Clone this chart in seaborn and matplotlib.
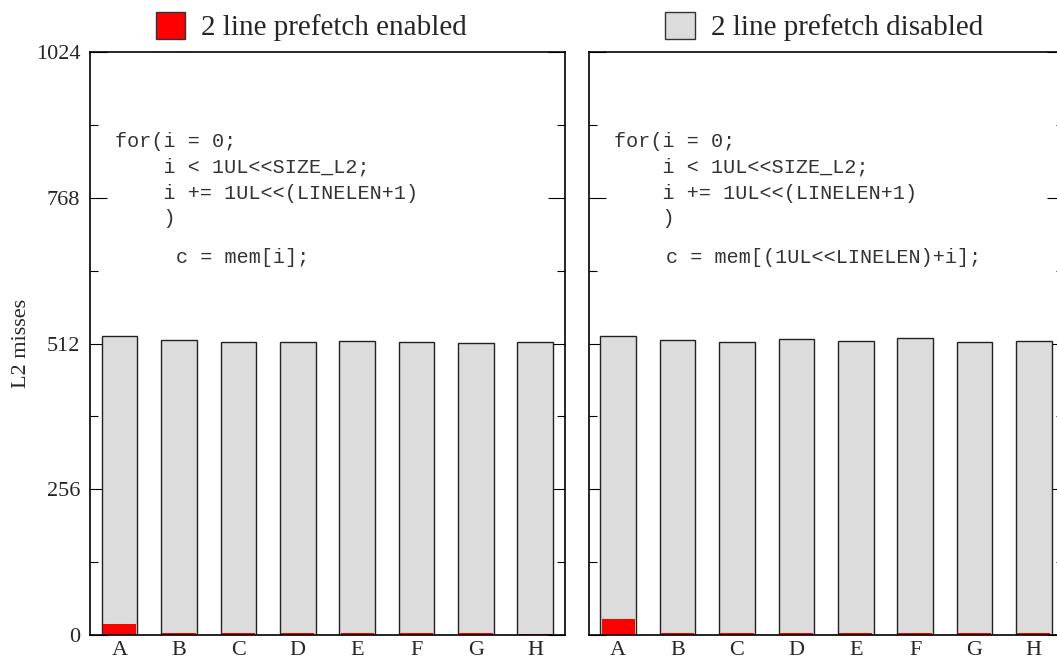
import matplotlib
matplotlib.use("Agg")
import matplotlib.pyplot as plt
from matplotlib.patches import Patch
from matplotlib.ticker import MultipleLocator
import seaborn as sns

# Data
categories = ["A", "B", "C", "D", "E", "F", "G", "H"]
disabled_left = [525, 518, 515, 515, 516, 515, 513, 515]
enabled_left = [19, 3, 3, 3, 3, 3, 3, 2]
disabled_right = [525, 518, 515, 520, 516, 522, 515, 516]
enabled_right = [28, 3, 3, 3, 3, 3, 3, 3]

code_left = ["for(i = 0;", "    i < 1UL<<SIZE_L2;", "    i += 1UL<<(LINELEN+1)", "    )"]
loop_body_left = "c = mem[i];"
loop_body_right = "c = mem[(1UL<<LINELEN)+i];"

sns.set_style("white")
plt.rcParams["font.family"] = ["Liberation Serif", "DejaVu Serif"]

fig = plt.figure(figsize=(10.57, 6.59), dpi=100)
ax1 = fig.add_axes([0.0851, 0.0364, 0.4494, 0.8847])
ax2 = fig.add_axes([0.5568, 0.0364, 0.4494, 0.8847])

grey = "#dcdcdc"
red = "#ff0000"


def draw_panel(ax, disabled, enabled, body, body_x):
    sns.barplot(x=categories, y=disabled, color=grey, saturation=1,
                edgecolor="#222222", linewidth=1.0, width=0.6, ax=ax)
    sns.barplot(x=categories, y=enabled, color=red, saturation=1,
                linewidth=0, width=0.56, ax=ax)
    ax.set_xlim(-0.5, 7.5)
    ax.set_ylim(0, 1024)
    ax.yaxis.set_major_locator(MultipleLocator(256))
    ax.yaxis.set_minor_locator(MultipleLocator(128))
    ax.tick_params(axis="y", which="major", direction="in", length=12,
                   width=0.8, left=True, right=True, labelsize=16, pad=7,
                   color="black")
    ax.tick_params(axis="y", which="minor", direction="in", length=6,
                   width=0.8, left=True, right=True, color="black")
    ax.tick_params(axis="x", length=0, labelsize=16, pad=4)
    for s in ax.spines.values():
        s.set_visible(True)
        s.set_color("black")
        s.set_linewidth(1.2)
    ax.set_xlabel("")
    # code snippet
    ys = [0.846, 0.802, 0.758, 0.715]
    for line, y in zip(code_left, ys):
        ax.text(0.053, y, line, transform=ax.transAxes, family="Liberation Mono",
                fontsize=14.5, va="center", ha="left", color="#333333")
    ax.text(body_x, 0.647, body, transform=ax.transAxes, family="Liberation Mono",
            fontsize=14.5, va="center", ha="left", color="#333333")


draw_panel(ax1, disabled_left, enabled_left, loop_body_left, 0.181)
draw_panel(ax2, disabled_right, enabled_right, loop_body_right, 0.163)

ax1.set_ylabel("L2 misses", fontsize=16)
ax1.yaxis.set_label_coords(-0.124, 0.5)
ax2.set_ylabel("")
ax2.tick_params(axis="y", labelleft=False)

ax1.legend(handles=[Patch(facecolor=red, edgecolor="#333333", linewidth=1)],
           labels=["2 line prefetch enabled"], loc="center",
           bbox_to_anchor=(0.466, 1.043), frameon=False, fontsize=21,
           handlelength=1.0, handleheight=1.0, handletextpad=0.55)
ax2.legend(handles=[Patch(facecolor=grey, edgecolor="#333333", linewidth=1)],
           labels=["2 line prefetch disabled"], loc="center",
           bbox_to_anchor=(0.496, 1.043), frameon=False, fontsize=21,
           handlelength=1.0, handleheight=1.0, handletextpad=0.55)

fig.savefig("out.png", dpi=100)
